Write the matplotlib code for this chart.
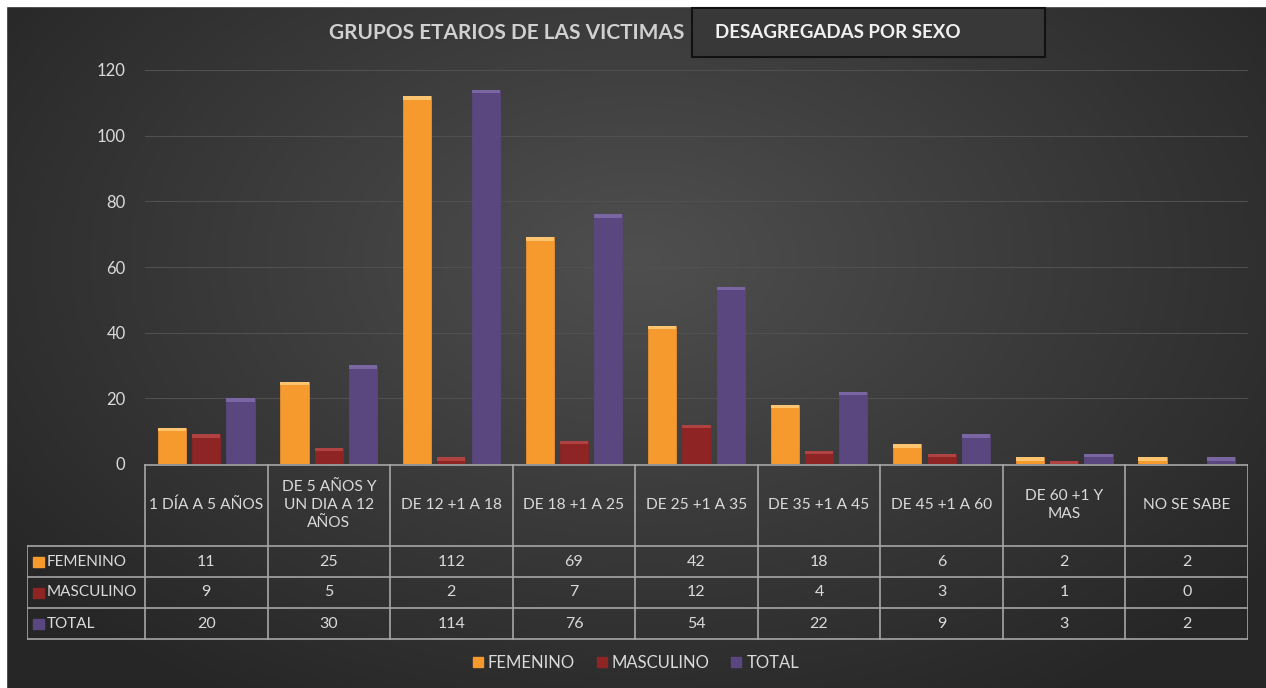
import matplotlib

matplotlib.use("Agg")
import matplotlib.pyplot as plt
import numpy as np
from matplotlib.patches import Rectangle

plt.rcParams["font.family"] = ["Lato", "DejaVu Sans"]

categories = [
    "1 DÍA A 5 AÑOS",
    "DE 5 AÑOS Y\nUN DIA A 12\nAÑOS",
    "DE 12 +1 A 18",
    "DE 18 +1 A 25",
    "DE 25 +1 A 35",
    "DE 35 +1 A 45",
    "DE 45 +1 A 60",
    "DE 60 +1 Y\nMAS",
    "NO SE SABE",
]
femenino = [11, 25, 112, 69, 42, 18, 6, 2, 2]
masculino = [9, 5, 2, 7, 12, 4, 3, 1, 0]
total = [20, 30, 114, 76, 54, 22, 9, 3, 2]
series_names = ["FEMENINO", "MASCULINO", "TOTAL"]
colors = ["#F79A2E", "#8E2424", "#5B4780"]
tops = ["#FFC470", "#B04242", "#7A66A2"]
text_col = "#DADADA"
line_col = "#A6A6A6"

W, H = 1266, 688
fig = plt.figure(figsize=(W / 100, H / 100), dpi=100)

# background radial gradient
bg = fig.add_axes([0, 0, 1, 1], zorder=-10)
yy, xx = np.mgrid[0:H, 0:W]
r = np.sqrt(((xx - 640) / 750.0) ** 2 + ((yy - 260) / 480.0) ** 2)
shade = np.clip(0.31 - 0.15 * r, 0.15, 0.31)
bg.imshow(np.dstack([shade] * 3), extent=[0, W, H, 0], aspect="auto")
bg.add_patch(Rectangle((0, 0), W, 6, color="white"))
bg.add_patch(Rectangle((0, 0), 6, H, color="white"))
bg.set_xlim(0, W)
bg.set_ylim(H, 0)
bg.axis("off")


def px(x0, y0, x1, y1):
    return [x0 / W, 1 - y1 / H, (x1 - x0) / W, (y1 - y0) / H]


ax = fig.add_axes(px(145, 70, 1248, 464))
ax.set_facecolor("none")
x = np.arange(len(categories))
bw = 0.23
step = 0.28
for k, (vals, c, t) in enumerate(zip([femenino, masculino, total], colors, tops)):
    pos = x + (k - 1) * step
    ax.bar(pos, vals, bw, color=c, edgecolor=c, linewidth=0.5, zorder=3)
    cap = [min(v, 1.0) for v in vals]
    ax.bar(pos, cap, bw, bottom=[v - cc for v, cc in zip(vals, cap)],
           color=t, linewidth=0, zorder=4)

ax.set_xlim(-0.5, len(categories) - 0.5)
ax.set_ylim(0, 120)
ax.set_yticks(range(0, 121, 20))
ax.tick_params(axis="y", length=0, colors=text_col, labelsize=12, pad=14)
ax.set_xticks([])
ax.grid(axis="y", color="#505050", linewidth=0.8, zorder=0)
for s in ax.spines.values():
    s.set_visible(False)

# data table below the plot
unit = (1248 - 145) / len(categories)
tab = fig.add_axes(px(27, 464, 1248, 640))
xl = -0.5 - (145 - 27) / unit
tab.set_xlim(xl, len(categories) - 0.5)
tab.set_ylim(640, 464)
tab.axis("off")
row_y = [546, 577, 608, 639]
lk = dict(color=line_col, linewidth=1.2)
tab.plot([-0.5, len(categories) - 0.5], [464.5, 464.5], **lk)
for yv in row_y:
    tab.plot([xl, len(categories) - 0.5], [yv, yv], **lk)
for i in range(len(categories) + 1):
    tab.plot([i - 0.5, i - 0.5], [464, 639], **lk)
tab.plot([xl, xl], [546, 639], **lk)

for i, lab in enumerate(categories):
    tab.text(i, 505, lab, ha="center", va="center", color=text_col,
             fontsize=11.2, linespacing=1.4)
for r_i, (name, vals, c) in enumerate(zip(series_names, [femenino, masculino, total], colors)):
    yc = (row_y[r_i] + row_y[r_i + 1]) / 2
    tab.add_patch(Rectangle((xl + 0.05, yc - 5), 0.085, 10, color=c))
    tab.text(xl + 0.16, yc, name, ha="left", va="center", color=text_col, fontsize=11)
    for i, v in enumerate(vals):
        tab.text(i, yc, str(v), ha="center", va="center", color=text_col, fontsize=11.5)

# title and framed subtitle
fig.text(507 / W, 1 - 33 / H, "GRUPOS ETARIOS DE LAS VICTIMAS", ha="center", va="center",
         color="#D0D0D0", fontsize=15, fontweight="bold")
fig.patches.append(Rectangle((692 / W, 1 - 57 / H), 353 / W, 49 / H, transform=fig.transFigure,
                             facecolor="#383838", edgecolor="#111111", linewidth=1.5))
fig.text(715 / W, 1 - 33 / H, "DESAGREGADAS POR SEXO", ha="left", va="center",
         color="#F0F0F0", fontsize=13.5, fontweight="bold")

# legend at the bottom
handles = [Rectangle((0, 0), 1, 1, color=c) for c in colors]
fig.legend(handles, series_names, loc="center", bbox_to_anchor=(636 / W, 1 - 663 / H),
           ncol=3, frameon=False, fontsize=12, labelcolor=text_col, handlelength=0.6,
           handleheight=0.6, handletextpad=0.3, columnspacing=1.3)

fig.savefig("out.png", dpi=100)
